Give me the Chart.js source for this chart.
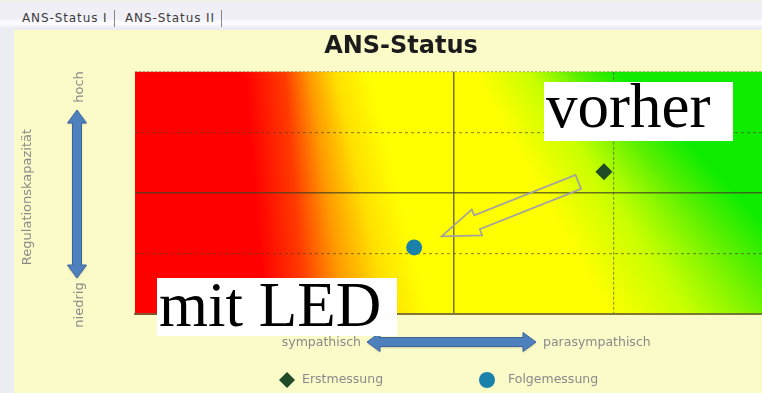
<!DOCTYPE html>
<html lang="de">
<head>
<meta charset="utf-8">
<title>ANS-Status</title>
<script src="https://cdn.jsdelivr.net/npm/chart.js@4.4.1/dist/chart.umd.min.js"></script>
<style>
  html, body { margin: 0; padding: 0; width: 762px; height: 393px; overflow: hidden; background: #ececf3; }
  .tabs { position: absolute; left: 0; top: 0; width: 762px; height: 30px;
          background: linear-gradient(#f2efe2 0, #efeff5 3px, #efeff5 19px, #fcfcff 21px, #fafaff 24px, #ececf3 28px); }
  .tab { position: absolute; top: 10px; font: 12px "DejaVu Sans", sans-serif; letter-spacing: 0.9px; color: #3c3c3c;
         padding-right: 6px; border-right: 1px solid #8a8a8a; line-height: 17px; }
  .panel { position: absolute; left: 14px; top: 30px; right: 0; bottom: 0; background: #fbfbc9; }
  #ans { position: absolute; left: 0; top: 0; }
</style>
</head>
<body>
<div class="tabs" id="tabs"></div>
<div class="panel"></div>
<canvas id="ans" width="800" height="393"></canvas>
<script>
const tabTitles = ['ANS-Status I', 'ANS-Status II'];
const chartTitle = 'ANS-Status';

// one measurement per series: x = sympathisch (-) .. parasympathisch (+), y = Regulationskapazität
const seriesNames = ['Erstmessung', 'Folgemessung'];
const seriesX = [0.94, -0.25];
const seriesY = [0.35, -0.9];
const seriesColors = ['#1f4b27', '#1a82aa'];
const seriesStyles = ['rectRot', 'circle'];

const axisMin = -2;
const axisMax = 2;
const xEndLabels = ['sympathisch', 'parasympathisch'];
const yEndLabels = ['niedrig', 'hoch'];
const yTitle = 'Regulationskapazität';
const noteTexts = ['vorher', 'mit LED'];

// tab strip
const tabX = [22, 125];
const tabBox = document.getElementById('tabs');
tabTitles.forEach((t, i) => {
  const el = document.createElement('div');
  el.className = 'tab';
  el.style.left = tabX[i] + 'px';
  el.textContent = t;
  tabBox.appendChild(el);
});

// background colour bands, positions as fractions of the plot width (top row / bottom row)
const bandColors = ['#ff0000', '#ff0000', '#ff3a00', '#ff9a00', '#ffe000', '#ffff00', '#ffff00', '#c8ff00', '#5af000', '#10ec00', '#10ec00'];
const bandTop    = [0, 0.172, 0.234, 0.273, 0.313, 0.367, 0.531, 0.617, 0.688, 0.758, 1.25];
const bandBottom = [0, 0.203, 0.266, 0.328, 0.398, 0.461, 0.742, 0.867, 1.02, 1.12, 1.25];

const backdrop = {
  id: 'backdrop',
  beforeDraw(chart) {
    const { ctx, chartArea: a } = chart;
    const w = a.right - a.left;
    const rows = 80;
    const h = (a.bottom - a.top) / rows;
    ctx.save();
    for (let i = 0; i < rows; i++) {
      const t = (i + 0.5) / rows;
      const g = ctx.createLinearGradient(a.left, 0, a.left + w * 1.25, 0);
      bandColors.forEach((c, k) => {
        g.addColorStop((bandTop[k] + (bandBottom[k] - bandTop[k]) * t) / 1.25, c);
      });
      ctx.fillStyle = g;
      ctx.fillRect(a.left, a.top + i * h, w, h + 1);
    }
    ctx.restore();
  }
};

function arrowPath(ctx, x0, y0, x1, y1, shaft, head, headLen, both) {
  const len = Math.hypot(x1 - x0, y1 - y0);
  ctx.save();
  ctx.translate(x0, y0);
  ctx.rotate(Math.atan2(y1 - y0, x1 - x0));
  const s = both ? headLen : 0;
  ctx.beginPath();
  if (both) {
    ctx.moveTo(0, 0);
    ctx.lineTo(s, -head);
    ctx.lineTo(s, -shaft);
  } else {
    ctx.moveTo(0, -shaft);
  }
  ctx.lineTo(len - headLen, -shaft);
  ctx.lineTo(len - headLen, -head);
  ctx.lineTo(len, 0);
  ctx.lineTo(len - headLen, head);
  ctx.lineTo(len - headLen, shaft);
  if (both) {
    ctx.lineTo(s, shaft);
    ctx.lineTo(s, head);
  } else {
    ctx.lineTo(0, shaft);
  }
  ctx.closePath();
  ctx.restore();
}

function blueArrow(ctx, x0, y0, x1, y1) {
  ctx.save();
  arrowPath(ctx, x0, y0, x1, y1, 4.5, 9.5, 13, true);
  ctx.shadowColor = 'rgba(0,0,0,0.25)';
  ctx.shadowBlur = 2;
  ctx.shadowOffsetY = 1;
  ctx.fillStyle = '#4f80be';
  ctx.fill();
  ctx.shadowColor = 'transparent';
  ctx.strokeStyle = '#3b659b';
  ctx.lineWidth = 1;
  ctx.stroke();
  ctx.restore();
}

function marker(ctx, style, x, y, r, color) {
  ctx.save();
  ctx.fillStyle = color;
  ctx.beginPath();
  if (style === 'circle') {
    ctx.arc(x, y, r, 0, Math.PI * 2);
  } else {
    ctx.moveTo(x, y - r); ctx.lineTo(x + r, y); ctx.lineTo(x, y + r); ctx.lineTo(x - r, y);
    ctx.closePath();
  }
  ctx.fill();
  ctx.restore();
}

const decorations = {
  id: 'decorations',
  afterDraw(chart) {
    const { ctx } = chart;
    const font = px => px + 'px "DejaVu Sans", sans-serif';
    ctx.save();
    ctx.fillStyle = '#8a8a8a';
    ctx.textBaseline = 'middle';

    // y axis: title, ends and double arrow
    ctx.font = font(13);
    ctx.textAlign = 'center';
    [[28, 197, yTitle], [80, 87, yEndLabels[1]], [80, 305, yEndLabels[0]]].forEach(([x, y, t]) => {
      ctx.save();
      ctx.translate(x, y);
      ctx.rotate(-Math.PI / 2);
      ctx.fillText(t, 0, 0);
      ctx.restore();
    });
    blueArrow(ctx, 77, 110, 77, 278);

    // x axis ends and double arrow
    ctx.font = font(12.5);
    ctx.fillStyle = '#8a8a8a';
    ctx.textAlign = 'right';
    ctx.fillText(xEndLabels[0], 361, 343);
    ctx.textAlign = 'left';
    ctx.fillText(xEndLabels[1], 543, 343);
    blueArrow(ctx, 367, 342, 536, 342);

    // legend built from the datasets
    const legendX = [287, 487];
    chart.data.datasets.forEach((ds, i) => {
      const x = legendX[i];
      marker(ctx, ds.pointStyle, x, 380, 8, ds.backgroundColor);
      ctx.fillStyle = '#8a8a8a';
      ctx.font = font(12.5);
      ctx.textAlign = 'left';
      ctx.fillText(ds.label, x + (i ? 21 : 15), 380);
    });

    // hollow arrow from first to follow-up measurement
    const p0 = chart.getDatasetMeta(0).data[0];
    const p1 = chart.getDatasetMeta(1).data[0];
    const lerp = (t) => [p0.x + (p1.x - p0.x) * t, p0.y + (p1.y - p0.y) * t];
    const [ax, ay] = lerp(0.135);
    const [bx, by] = lerp(0.855);
    arrowPath(ctx, ax, ay, bx, by, 7.5, 14, 38, false);
    ctx.strokeStyle = '#a2a2a2';
    ctx.lineWidth = 1.7;
    ctx.lineJoin = 'miter';
    ctx.stroke();

    // note boxes
    ctx.font = '63px "Liberation Serif", serif';
    ctx.textBaseline = 'alphabetic';
    ctx.textAlign = 'left';
    [[544, 82, 189, 59, 546, 127, noteTexts[0]], [157, 278, 240, 58, 159, 326, noteTexts[1]]].forEach(([x, y, w, h, tx, ty, t]) => {
      ctx.fillStyle = '#ffffff';
      ctx.fillRect(x, y, w, h);
      ctx.fillStyle = '#000000';
      ctx.fillText(t, tx, ty);
    });
    ctx.restore();
  }
};

const solidLine = 'rgba(70,66,36,0.75)';
const dashLine = 'rgba(70,66,36,0.55)';

new Chart(document.getElementById('ans'), {
  type: 'scatter',
  data: {
    datasets: seriesNames.map((name, i) => ({
      label: name,
      data: [{ x: seriesX[i], y: seriesY[i] }],
      pointStyle: seriesStyles[i],
      pointRadius: i === 0 ? 8.5 : 8,
      pointHoverRadius: 8,
      backgroundColor: seriesColors[i],
      borderWidth: 0
    }))
  },
  options: {
    responsive: false,
    animation: false,
    events: [],
    layout: { padding: { left: 29, right: 27, top: 0, bottom: 0 } },
    plugins: {
      legend: { display: false },
      tooltip: { enabled: false },
      title: {
        display: true,
        text: chartTitle,
        color: '#1c1c1c',
        font: { family: '"DejaVu Sans", sans-serif', size: 24, weight: 'bold' },
        padding: { top: 32, bottom: 11 }
      }
    },
    scales: {
      x: {
        min: axisMin,
        max: axisMax,
        ticks: { display: false, stepSize: 1 },
        grid: {
          drawTicks: false,
          color: c => {
            const v = c.tick ? c.tick.value : null;
            if (v === 0) return solidLine;
            if (v === 1) return dashLine;
            return 'transparent';
          },
          lineWidth: c => (c.tick && c.tick.value === 0 ? 1.5 : 1.2)
        },
        border: {
          display: true,
          color: 'rgba(110,98,58,0.85)',
          width: 2,
          dash: c => (c.tick && c.tick.value === 0 ? [] : [3, 2])
        },
        afterFit: s => { s.height = 79; }
      },
      y: {
        min: axisMin,
        max: axisMax,
        ticks: { display: false, stepSize: 1 },
        grid: {
          drawTicks: false,
          color: c => {
            const v = c.tick ? c.tick.value : null;
            if (v === 0) return solidLine;
            if (v === 1 || v === -1) return dashLine;
            if (v === 2) return 'rgba(140,130,90,0.6)';
            return 'transparent';
          },
          lineWidth: c => (c.tick && c.tick.value === 0 ? 1.5 : 1.2)
        },
        border: {
          display: false,
          dash: c => {
            const v = c.tick ? c.tick.value : null;
            if (v === 0) return [];
            if (v === 2) return [2, 2];
            return [3, 3];
          }
        },
        afterFit: s => { s.width = 106; }
      }
    }
  },
  plugins: [backdrop, decorations]
});
</script>
</body>
</html>
